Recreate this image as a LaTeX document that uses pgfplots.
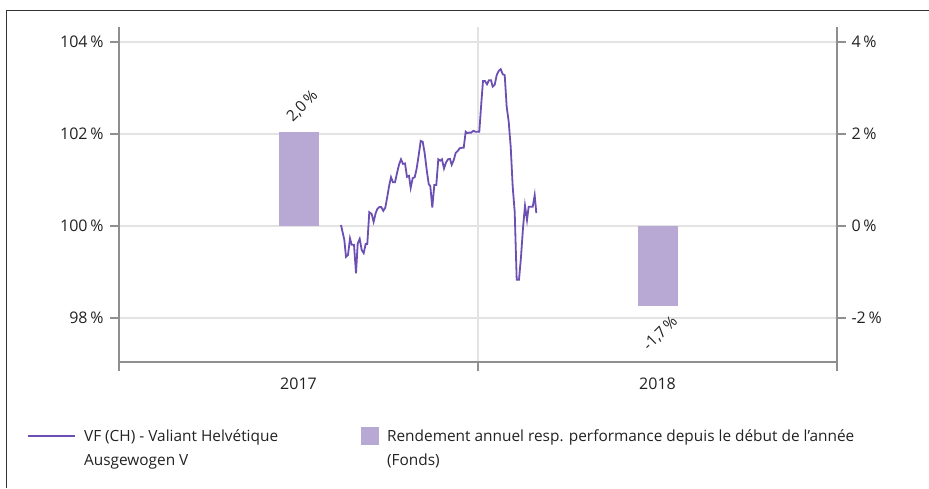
\documentclass[border=0pt]{standalone}
\usepackage{fontspec}
\setmainfont{Open Sans}
\usepackage{pgfplots}
\usepackage{pgfplotstable}
\pgfplotsset{compat=1.18}

\definecolor{fundline}{HTML}{6C4FB2}
\definecolor{fundbar}{HTML}{B7A8D4}
\definecolor{gridgray}{HTML}{E3E3E3}
\definecolor{axisgray}{HTML}{8F8F8F}
\definecolor{txt}{HTML}{222222}

% fund price, indexed (x: 0..1 = 2017, 1..2 = 2018)
\pgfplotstableread{
x y
0.6184 100.02
0.6276 99.70
0.6323 99.33
0.6379 99.37
0.6435 99.73
0.6482 99.59
0.6546 99.59
0.6602 98.97
0.6649 99.62
0.6705 99.72
0.6760 99.48
0.6816 99.41
0.6872 99.61
0.6916 99.61
0.6972 100.30
0.7039 100.26
0.7092 100.09
0.7150 100.28
0.7195 100.37
0.7251 100.41
0.7306 100.41
0.7362 100.33
0.7418 100.40
0.7474 100.64
0.7529 100.89
0.7577 101.06
0.7632 100.95
0.7688 100.95
0.7744 101.15
0.7799 101.33
0.7855 101.45
0.7911 101.35
0.7967 101.36
0.8022 101.07
0.8078 101.09
0.8125 100.83
0.8181 101.04
0.8237 101.06
0.8292 101.25
0.8348 101.54
0.8404 101.85
0.8460 101.83
0.8515 101.58
0.8571 101.22
0.8627 100.91
0.8671 100.87
0.8727 100.40
0.8783 100.89
0.8838 100.89
0.8894 101.45
0.8950 101.42
0.8997 101.45
0.9053 101.25
0.9109 101.38
0.9164 101.45
0.9220 101.46
0.9267 101.33
0.9323 101.43
0.9379 101.59
0.9435 101.63
0.9490 101.69
0.9546 101.70
0.9602 101.70
0.9657 102.05
0.9702 102.02
0.9758 102.03
0.9813 102.03
0.9869 102.07
0.9925 102.05
0.9981 102.05
1.0036 102.05
1.0092 102.67
1.0139 103.15
1.0195 103.15
1.0251 103.08
1.0306 103.17
1.0362 103.17
1.0409 103.03
1.0465 103.07
1.0521 103.28
1.0577 103.37
1.0632 103.41
1.0688 103.30
1.0744 103.28
1.0799 102.59
1.0855 102.27
1.0911 101.72
1.0967 100.85
1.1022 100.31
1.1078 98.83
1.1142 98.83
1.1198 99.33
1.1253 99.95
1.1309 100.44
1.1365 100.13
1.1412 100.42
1.1468 100.42
1.1524 100.42
1.1579 100.67
1.1624 100.28
}\fundtable

\pgfplotsset{
  common/.style={
    at={(119pt,126pt)}, anchor=south west,
    width=718pt, height=335pt, scale only axis,
    xmin=0, xmax=2,
    axis line style={-, axisgray, line width=1.6pt},
    tick style={axisgray, line width=1.3pt},
    tick align=outside,
    major tick length=9pt,
    tick label style={font=\fontsize{16}{19}\selectfont, text=txt},
    /pgf/number format/assume math mode=true,
  }
}

\begin{document}
\begin{tikzpicture}
\useasboundingbox (0pt,0pt) rectangle (929pt,488pt);
\draw[line width=1.5pt, color=black!80] (6.5pt,0pt) -- (6.5pt,477.5pt) -- (929pt,477.5pt);

\begin{axis}[common,
  ymin=97.043, ymax=104.326,
  axis x line*=bottom, axis y line*=left,
  xtick={0,1,2}, xticklabels={,,},
  extra x ticks={0.5,1.5}, extra x tick labels={2017,2018},
  extra x tick style={grid=none, tick style={draw=none},
    xticklabel style={yshift=-3pt}},
  ytick={98,100,102,104},
  yticklabels={98\,\%,100\,\%,102\,\%,104\,\%},
  yticklabel style={xshift=-3pt},
  xmajorgrids, ymajorgrids,
  grid style={gridgray, line width=1.2pt},
]
\addplot[fundline, line width=1.8pt, no markers] table[x=x, y=y] {\fundtable};
\end{axis}

\begin{axis}[common,
  ymin=-2.957, ymax=4.326,
  axis x line=none, axis y line*=right,
  ytick={-2,0,2,4},
  yticklabels={-2\,\%,0\,\%,2\,\%,4\,\%},
  yticklabel style={xshift=2pt},
  legend style={at={(axis description cs:-0.128,-0.194)}, anchor=north west,
    draw=none, fill=none, inner sep=0pt,
    font=\fontsize{15.4}{24}\selectfont, text=txt,
    legend columns=2, cells={anchor=west},
    /tikz/every odd column/.append style={column sep=6pt},
    /tikz/every even column/.append style={column sep=25pt}},
]
\addlegendimage{legend image code/.code={\draw[fundline, line width=1.8pt] (0pt,0pt) -- (47pt,0pt); \path[draw=none, fill=none] (0pt,-27.5pt) rectangle (0.1pt,0pt);}}
\addlegendentry{\parbox[t]{250pt}{VF (CH) - Valiant Helvétique\newline Ausgewogen V}}
\addplot[ybar, bar width=40pt, bar shift=0pt, fill=fundbar, draw=none,
  point meta=explicit symbolic, nodes near coords,
  nodes near coords style={font=\fontsize{15.4}{18}\selectfont, text=txt,
    anchor=center, xshift=4pt, yshift=26pt, rotate=45},
  legend image code/.code={\fill[fundbar, draw=none] (0pt,-9pt) rectangle (18pt,9pt); \path[draw=none, fill=none] (0pt,-36pt) rectangle (0.1pt,9pt);}]
  coordinates {(0.5,2.04) [2,0\,\%]};
\addlegendentry{\parbox[t]{520pt}{Rendement annuel resp. performance depuis le début de l'année\newline (Fonds)}}
\addplot[ybar, bar width=40pt, bar shift=0pt, fill=fundbar, draw=none, forget plot,
  point meta=explicit symbolic, nodes near coords,
  nodes near coords style={font=\fontsize{15.4}{18}\selectfont, text=txt,
    anchor=center, xshift=3pt, yshift=-28pt, rotate=45}]
  coordinates {(1.5,-1.73) [-1,7\,\%]};
\end{axis}
\end{tikzpicture}
\end{document}
